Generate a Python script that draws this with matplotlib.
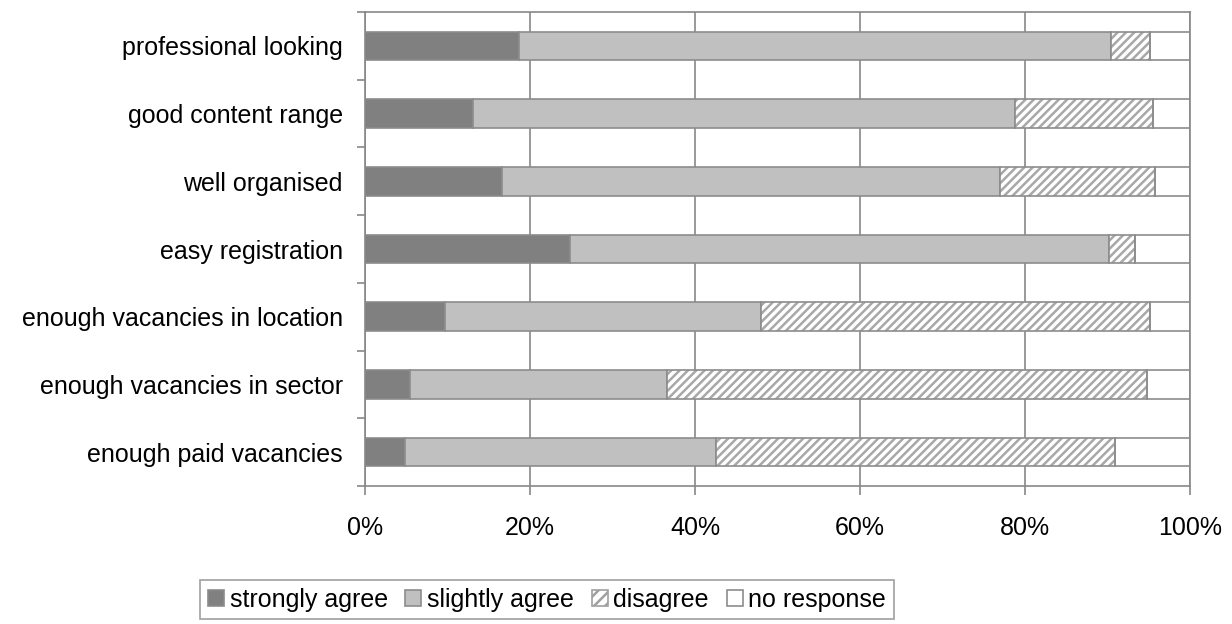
import matplotlib
matplotlib.use("Agg")
import matplotlib.pyplot as plt
from matplotlib.patches import Patch
import numpy as np

plt.rcParams['font.family'] = ['Liberation Sans', 'DejaVu Sans']
plt.rcParams['hatch.linewidth'] = 1.8

categorias = ["professional looking", "good content range", "well organised",
              "easy registration", "enough vacancies in location",
              "enough vacancies in sector", "enough paid vacancies"]
strongly = [18.7, 13.1, 16.6, 24.8, 9.7, 5.4, 4.9]
slightly = [71.7, 65.7, 60.4, 65.4, 38.3, 31.2, 37.7]
disagree = [4.8, 16.7, 18.8, 3.1, 47.2, 58.2, 48.3]
no_resp = [100 - a - b - c for a, b, c in zip(strongly, slightly, disagree)]

series = [("strongly agree", strongly, "#808080", None),
          ("slightly agree", slightly, "#c0c0c0", None),
          ("disagree", disagree, "white", "////"),
          ("no response", no_resp, "white", None)]

borda = "#8c8c8c"

fig = plt.figure(figsize=(12.32, 6.24), dpi=100)
ax = fig.add_axes([365/1232, 1 - 486/624, 825/1232, 474/624])

y = np.arange(len(categorias))[::-1]
left = np.zeros(len(categorias))
handles = []
for nome, vals, cor, hatch in series:
    if hatch:
        # hachura mais clara que o contorno
        ax.barh(y, vals, left=left, height=0.42, color=cor, hatch=hatch,
                edgecolor="#a8a8a8", linewidth=0, zorder=2)
        ax.barh(y, vals, left=left, height=0.42, fill=False,
                edgecolor=borda, linewidth=1.2, zorder=3)
        handles.append(Patch(facecolor=cor, hatch="///", edgecolor="#a0a0a0",
                             linewidth=1.2, label=nome))
    else:
        ax.barh(y, vals, left=left, height=0.42, color=cor,
                edgecolor=borda, linewidth=1.2, zorder=2)
        handles.append(Patch(facecolor=cor, edgecolor=borda, linewidth=1.2,
                             label=nome))
    left += np.array(vals)

ax.set_xlim(0, 100)
ax.set_ylim(-0.5, len(categorias) - 0.5)
ax.set_xticks(np.arange(0, 101, 20))
ax.set_xticklabels([f"{v}%" for v in range(0, 101, 20)])
ax.set_yticks(y)
ax.set_yticklabels(categorias)
ax.set_yticks(np.arange(-0.5, len(categorias), 1), minor=True)
ax.xaxis.grid(True, color="#878787", linewidth=1.2, zorder=0)
ax.set_axisbelow(True)

for s in ax.spines.values():
    s.set_color("#878787")
    s.set_linewidth(1.2)

ax.tick_params(axis="y", which="major", length=0, pad=16, labelsize=18)
ax.tick_params(axis="y", which="minor", length=6, color="#878787", width=1.2)
ax.tick_params(axis="x", length=6.5, color="#878787", width=1.2, pad=15, labelsize=18)

leg = fig.legend(handles=handles, loc="upper left",
                 bbox_to_anchor=(200/1232, 1 - 580/624), ncol=4,
                 fontsize=18, frameon=True, fancybox=False, handlelength=0.64,
                 handleheight=0.6, handletextpad=0.24, columnspacing=0.7,
                 borderpad=0.3, borderaxespad=0)
leg.get_frame().set_edgecolor("#878787")
leg.get_frame().set_linewidth(1.2)

fig.savefig("out.png", dpi=100)
